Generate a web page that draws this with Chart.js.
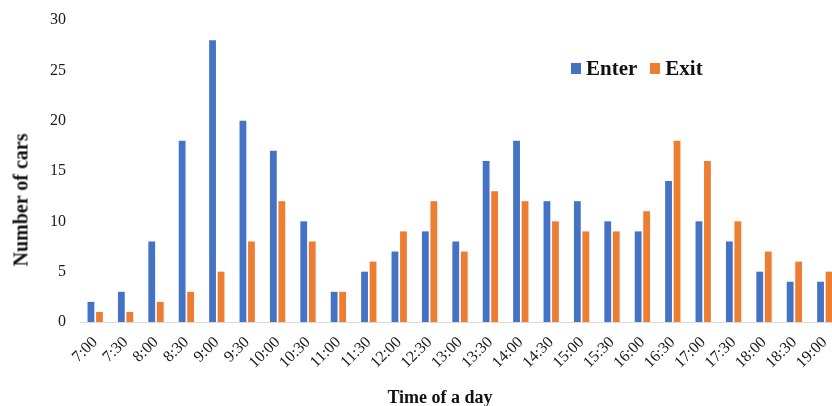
<!DOCTYPE html>
<html>
<head>
<meta charset="utf-8">
<script src="https://cdn.jsdelivr.net/npm/chart.js@4/dist/chart.umd.min.js"></script>
<style>
  html, body { margin: 0; padding: 0; background: #fff; overflow: hidden; }
  #wrap { position: relative; width: 832px; height: 406px; overflow: hidden; }
  #box { position: absolute; left: 0; top: 0; width: 840px; height: 406px; }
  .title { position: absolute; font-family: "Liberation Serif", "Times New Roman", serif; font-weight: bold; color: #111; white-space: nowrap; }
  #ytitle { left: 21px; top: 200px; font-size: 20px; transform: translate(-50%, -50%) rotate(-90deg); }
  #xtitle { left: 440px; top: 397px; font-size: 18px; transform: translate(-50%, -50%); }
  #legend { position: absolute; left: 571px; top: 56px; display: flex; align-items: center; font-family: "Liberation Serif", "Times New Roman", serif; font-weight: bold; font-size: 21px; color: #111; }
  #legend .sw { display: inline-block; width: 10px; height: 11px; margin-right: 5px; }
  #legend .item { display: flex; align-items: center; margin-right: 13px; }
</style>
</head>
<body>
<div id="wrap">
  <div id="box"><canvas id="c"></canvas></div>
  <div id="ytitle" class="title">Number of cars</div>
  <div id="xtitle" class="title">Time of a day</div>
  <div id="legend"></div>
</div>
<script>
const times = ["7:00","7:30","8:00","8:30","9:00","9:30","10:00","10:30","11:00","11:30","12:00","12:30","13:00","13:30","14:00","14:30","15:00","15:30","16:00","16:30","17:00","17:30","18:00","18:30","19:00"];
const enterCars = [2,3,8,18,28,20,17,10,3,5,7,9,8,16,18,12,12,10,9,14,10,8,5,4,4];
const exitCars  = [1,1,2,3,5,8,12,8,3,6,9,12,7,13,12,10,9,9,11,18,16,10,7,6,5];
const seriesNames = ["Enter", "Exit"];
const seriesColors = ["#4472C4", "#ED7D31"];

const tickFont = { family: "'Liberation Serif', 'Times New Roman', serif", size: 16 };

const chart = new Chart(document.getElementById("c"), {
  type: "bar",
  data: {
    labels: times,
    datasets: [
      { label: seriesNames[0], data: enterCars, backgroundColor: seriesColors[0] },
      { label: seriesNames[1], data: exitCars, backgroundColor: seriesColors[1] }
    ]
  },
  options: {
    responsive: true,
    maintainAspectRatio: false,
    animation: false,
    datasets: { bar: { categoryPercentage: 0.56, barPercentage: 0.8 } },
    layout: { padding: { top: 20, right: 0, left: 0, bottom: 0 } },
    plugins: { legend: { display: false }, tooltip: { enabled: false } },
    scales: {
      x: {
        grid: { display: false, drawTicks: false },
        border: { display: true, color: "#d9d9d9", width: 1 },
        ticks: { font: tickFont, color: "#1a1a1a", minRotation: 45, maxRotation: 45, padding: 11, autoSkip: false },
        afterFit: (s) => { s.height = 84; s.paddingLeft = 0; s.paddingRight = 0; }
      },
      y: {
        min: 0, max: 30,
        grid: { display: false, drawTicks: false },
        border: { display: false },
        ticks: { stepSize: 5, font: tickFont, color: "#1a1a1a", padding: 14 },
        afterFit: (s) => { s.width = 80; s.paddingTop = 0; s.paddingBottom = 0; }
      }
    }
  }
});

// legend built from the dataset names and colours
const legend = document.getElementById("legend");
seriesNames.forEach((name, i) => {
  const item = document.createElement("span");
  item.className = "item";
  const sw = document.createElement("span");
  sw.className = "sw";
  sw.style.background = seriesColors[i];
  item.appendChild(sw);
  item.appendChild(document.createTextNode(name));
  legend.appendChild(item);
});
</script>
</body>
</html>
